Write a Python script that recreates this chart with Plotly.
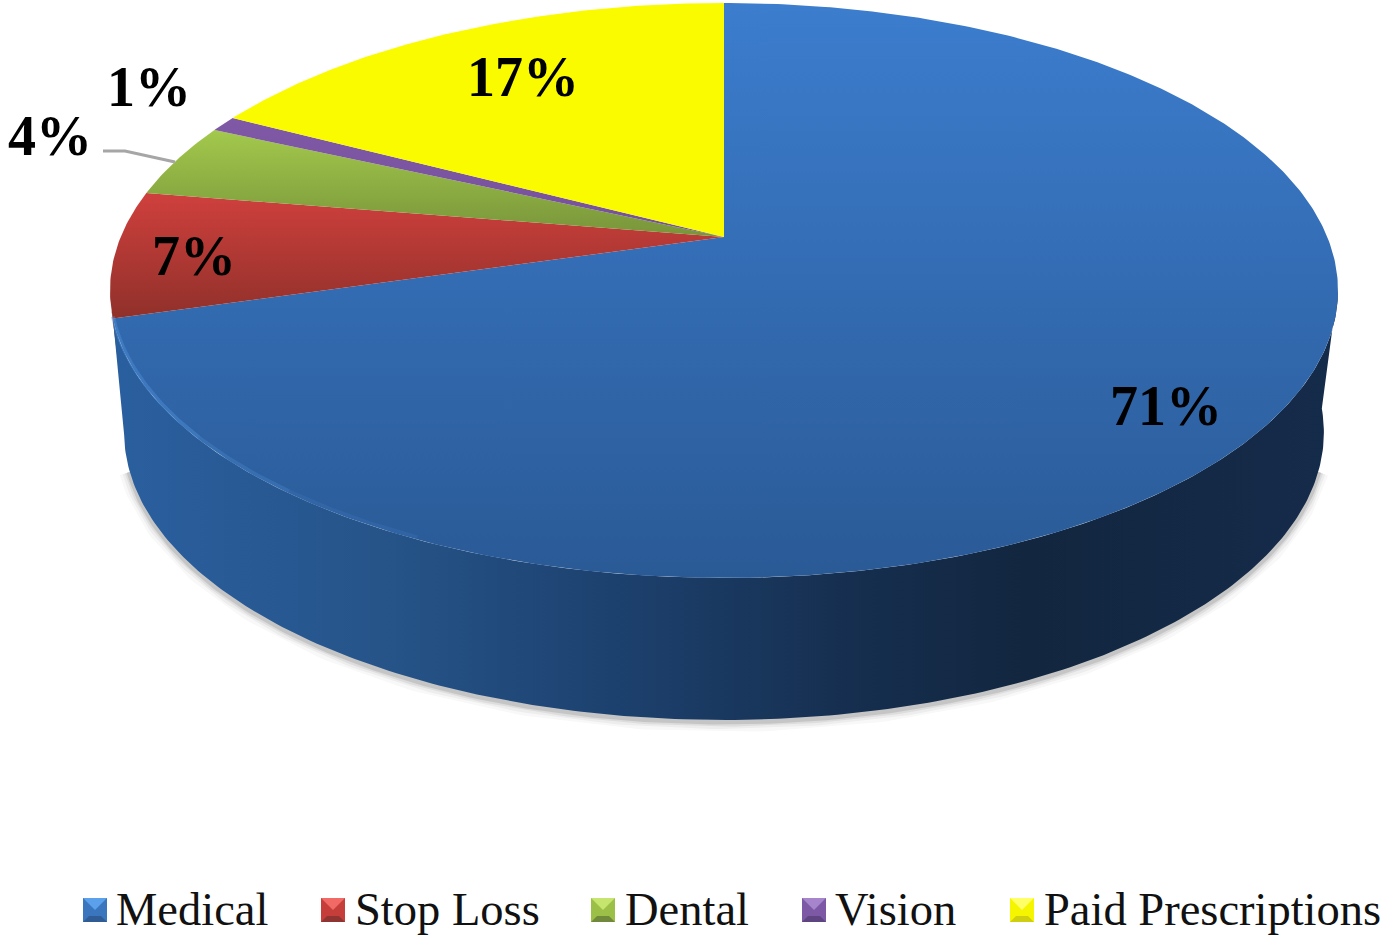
import numpy as np
import plotly.graph_objects as go

# Data
categories = ["Medical", "Stop Loss", "Dental", "Vision", "Paid Prescriptions"]
values = [70.51, 7.1, 4.2, 0.9, 17.29]

# Styles
top_colors = [("#3c7dce", "#2a5a96"), ("#cf403d", "#90302a"), ("#a3c94c", "#78943a"),
              ("#8059a6", "#75509a"), ("#fbfb00", "#fbfb00")]
swatch_colors = [("#5aa0ea", "#3a76bd", "#2c609e", "#2f5c94"),
                 ("#f26a66", "#c63e3a", "#a53330", "#8f3431"),
                 ("#c6e56e", "#9cbf47", "#7f9c39", "#71893a"),
                 ("#a685cc", "#7d58a4", "#654489", "#5e4480"),
                 ("#ffff66", "#f5f500", "#dcdc00", "#cfcf10")]
label_pos = [(1166, 406), (194, 256), (50, 136), (149, 87), (523, 77)]
swatch_x = [83, 321, 591, 802, 1010]
text_x = [114, 353, 623, 833, 1042]

# Tilted disc projection
CX, CY, C, P, R = 724, 237, 0.186, -233.44, 603.3
DEPTH, SHRINK = 142, 0.977


def rim(theta_deg, shrink=1.0, dy=0.0):
    t = np.radians(theta_deg)
    u, v = np.sin(t), np.cos(t)
    w = 1 + C * v
    return CX + R * shrink * u / w, (CY + P * v) / w + dy


total = sum(values)
medical_end = values[0] / total * 360

fig = go.Figure()

# Shadow beneath the side wall
sx, sy = rim(np.linspace(108, 252, 240), SHRINK, DEPTH)
for width, alpha in [(20, 0.03), (14, 0.05), (9, 0.08), (5, 0.13)]:
    fig.add_trace(go.Scatter(x=sx, y=sy + 2, mode="lines", hoverinfo="skip", showlegend=False,
                             line=dict(color=f"rgba(40,40,40,{alpha})", width=width)))

# Thin visible side of the next slice, then the main side wall
tt = np.linspace(medical_end - 1, medical_end + 3, 40)
x1, y1 = rim(tt)
x2, y2 = rim(tt[::-1], SHRINK, DEPTH - 30)
fig.add_trace(go.Scatter(x=np.r_[x1, x2], y=np.r_[y1, y2], mode="lines", fill="toself",
                         hoverinfo="skip", showlegend=False,
                         line=dict(width=0), fillcolor="#8e2e2a"))
x1, y1 = rim(np.linspace(100, medical_end, 240))
x2, y2 = rim(np.linspace(medical_end + 5, 96, 240), SHRINK, DEPTH)
fig.add_trace(go.Scatter(
    x=np.r_[x1, x2], y=np.r_[y1, y2], mode="lines", fill="toself", hoverinfo="skip", showlegend=False,
    line=dict(width=0),
    fillgradient=dict(type="horizontal", start=115, stop=1330,
                      colorscale=[[0, "#2a5f9f"], [0.22, "#265489"], [0.4, "#1d4270"],
                                  [0.6, "#162f50"], [0.75, "#12263f"], [1, "#152b4a"]])))

# Top slices
start = 0.0
for name, val, (c0, c1) in zip(categories, values, top_colors):
    end = start + val / total * 360
    th = np.linspace(start, end, max(8, int(val * 6)))
    xr, yr = rim(th)
    xs = np.r_[CX, xr, CX]
    ys = np.r_[CY, yr, CY]
    fig.add_trace(go.Scatter(
        x=xs, y=ys, mode="lines", fill="toself", name=name, showlegend=False, hoverinfo="name",
        line=dict(width=0),
        fillgradient=dict(type="vertical", start=float(ys.min()), stop=float(ys.max()),
                          colorscale=[[0, c0], [1, c1]])))
    start = end

# Soft highlight along the front edge of the top
for a0, alpha in [(205, 0.12), (218, 0.14), (230, 0.16)]:
    hx, hy = rim(np.linspace(a0, medical_end, 120))
    fig.add_trace(go.Scatter(x=hx, y=hy - 2, mode="lines", hoverinfo="skip", showlegend=False,
                             line=dict(color=f"rgba(90,155,230,{alpha})", width=4)))

# Percentage labels
annotations = []
for val, (lx, ly) in zip(values, label_pos):
    annotations.append(dict(x=lx, y=ly, text=f"<b>{round(val)}%</b>", showarrow=False,
                            xanchor="center", yanchor="middle",
                            font=dict(family="Liberation Serif", size=56, color="black")))

# Legend
shapes = []
S = 24
for name, sxx, tx, cols in zip(categories, swatch_x, text_x, swatch_colors):
    y0, y1_ = 898, 898 + S
    xm, ym = sxx + S / 2, y0 + S / 2
    shapes.append(dict(type="rect", x0=sxx, x1=sxx + S, y0=y0, y1=y1_, fillcolor=cols[1],
                       line=dict(width=0), xref="x", yref="y"))
    shapes.append(dict(type="path", path=f"M{sxx},{y0} L{sxx+S},{y0} L{xm},{ym} Z",
                       fillcolor=cols[0], line=dict(width=0), xref="x", yref="y"))
    shapes.append(dict(type="path", path=f"M{sxx},{y1_} L{sxx+S},{y1_} L{sxx+S-6},{y1_-6} L{sxx+6},{y1_-6} Z",
                       fillcolor=cols[3], line=dict(width=0), xref="x", yref="y"))
    annotations.append(dict(x=tx, y=909, text=name, showarrow=False, xanchor="left", yanchor="middle",
                            font=dict(family="Liberation Serif", size=46.5, color="#111111")))

# Leader line of the small slice
fig.add_trace(go.Scatter(x=[103, 125, 175], y=[151, 151, 162], mode="lines", hoverinfo="skip",
                         showlegend=False, line=dict(color="#a6a6a6", width=3)))

fig.update_layout(
    width=1383, height=937, margin=dict(l=0, r=0, t=0, b=0), showlegend=False,
    paper_bgcolor="white", plot_bgcolor="white",
    xaxis=dict(range=[0, 1383], visible=False, fixedrange=True),
    yaxis=dict(range=[937, 0], visible=False, fixedrange=True),
    annotations=annotations, shapes=shapes)

fig.write_html("out.html", config={"displayModeBar": False},
               post_script="document.body.style.margin='0';document.body.style.overflow='hidden';")
